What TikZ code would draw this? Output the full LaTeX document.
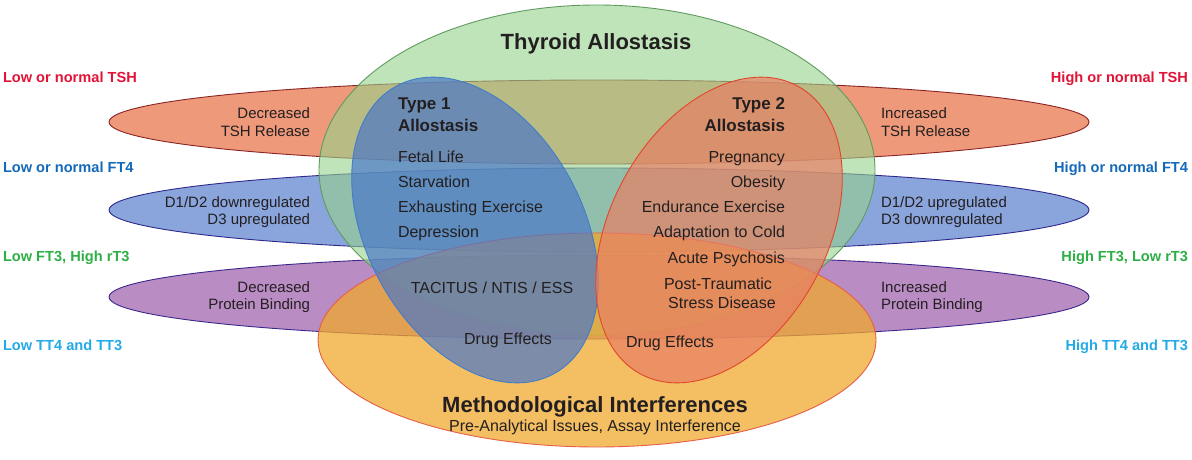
\documentclass[tikz,border=0pt]{standalone}
\usepackage{fontspec}
\setmainfont{Liberation Sans}
\definecolor{txt}{RGB}{35,31,32}
\definecolor{bandR}{RGB}{237,153,122}
\definecolor{bandRd}{RGB}{140,35,35}
\definecolor{bandB}{RGB}{138,164,220}
\definecolor{bandBd}{RGB}{45,40,140}
\definecolor{bandP}{RGB}{186,140,196}
\definecolor{bandPd}{RGB}{60,40,140}
\definecolor{grn}{RGB}{150,210,140}
\definecolor{grnd}{RGB}{95,155,95}
\definecolor{org}{RGB}{240,168,45}
\definecolor{orgd}{RGB}{230,95,70}
\definecolor{tone}{RGB}{75,120,200}
\definecolor{toned}{RGB}{65,125,200}
\definecolor{ttwo}{RGB}{232,127,100}
\definecolor{ttwod}{RGB}{225,70,45}
\definecolor{cTSH}{RGB}{225,20,55}
\definecolor{cFT}{RGB}{20,105,185}
\definecolor{cFTT}{RGB}{45,175,70}
\definecolor{cTT}{RGB}{35,170,230}
\begin{document}
\begin{tikzpicture}[x=1pt,y=-1pt,
  lab/.style={font=\fontsize{14.6}{16}\selectfont\bfseries, inner sep=0pt, outer sep=0pt},
  btxt/.style={font=\fontsize{15}{18}\selectfont, text=txt, inner sep=0pt, outer sep=0pt},
  itxt/.style={font=\fontsize{16}{19}\selectfont, text=txt, inner sep=0pt, outer sep=0pt},
  head/.style={font=\fontsize{17}{21}\selectfont\bfseries, text=txt, inner sep=0pt, outer sep=0pt},
  ttl/.style={font=\fontsize{22}{26}\selectfont\bfseries, text=txt, inner sep=0pt, outer sep=0pt},
  band/.style={line width=0.9pt},
  blob/.style={line width=0.9pt}]
\useasboundingbox (0,0) rectangle (1192,460);
% horizontal bands
\draw[band, fill=bandR, draw=bandRd] (599,122) ellipse [x radius=490pt, y radius=42pt];
\draw[band, fill=bandB, draw=bandBd] (599,210) ellipse [x radius=490pt, y radius=42pt];
\draw[band, fill=bandP, draw=bandPd] (599,297) ellipse [x radius=490pt, y radius=42pt];
% thyroid allostasis
\draw[blob, fill=grn, fill opacity=0.6, draw=grnd] (597,170) ellipse [x radius=278pt, y radius=165pt];
% methodological interferences
\draw[blob, fill=org, fill opacity=0.75, draw=orgd] (597,340) ellipse [x radius=279pt, y radius=107pt];
% type 1 and type 2
\draw[blob, fill=tone, fill opacity=0.7, draw=toned, rotate around={28.8:(475,230)}] (475,230) ellipse [x radius=108pt, y radius=164pt];
\draw[blob, fill=ttwo, fill opacity=0.7, draw=ttwod, rotate around={-28.8:(719,230)}] (719,230) ellipse [x radius=108pt, y radius=164pt];

% side labels
\node[lab, text=cTSH, anchor=base west] (lTSH) at (3,82) {Low or normal TSH};
\node[lab, text=cFT, anchor=base west] (lFT4) at (3,172) {Low or normal FT4};
\node[lab, text=cFTT, anchor=base west] (lFT3) at (3,261) {Low FT3, High rT3};
\node[lab, text=cTT, anchor=base west] (lTT4) at (3,350) {Low TT4 and TT3};
\node[lab, text=cTSH, anchor=base east] (rTSH) at (1188,82) {High or normal TSH};
\node[lab, text=cFT, anchor=base east] (rFT4) at (1188,172) {High or normal FT4};
\node[lab, text=cFTT, anchor=base east] (rFT3) at (1188,261) {High FT3, Low rT3};
\node[lab, text=cTT, anchor=base east] (rTT4) at (1188,350) {High TT4 and TT3};

% band texts
\node[btxt, anchor=base east] (bl1a) at (310,118) {Decreased};
\node[btxt, anchor=base east] (bl1b) at (310,136) {TSH Release};
\node[btxt, anchor=base east] (bl2a) at (310,207) {D1/D2 downregulated};
\node[btxt, anchor=base east] (bl2b) at (310,224) {D3 upregulated};
\node[btxt, anchor=base east] (bl3a) at (310,292) {Decreased};
\node[btxt, anchor=base east] (bl3b) at (310,309) {Protein Binding};
\node[btxt, anchor=base west] (br1a) at (881,118) {Increased};
\node[btxt, anchor=base west] (br1b) at (881,136) {TSH Release};
\node[btxt, anchor=base west] (br2a) at (881,207) {D1/D2 upregulated};
\node[btxt, anchor=base west] (br2b) at (881,224) {D3 downregulated};
\node[btxt, anchor=base west] (br3a) at (881,292) {Increased};
\node[btxt, anchor=base west] (br3b) at (881,309) {Protein Binding};

% titles
\node[ttl, anchor=base] (thy) at (596,50) {Thyroid Allostasis};
\node[ttl, anchor=base] (meth) at (595,412) {Methodological Interferences};
\node[itxt, anchor=base] (pre) at (595,431) {Pre-Analytical Issues, Assay Interference};

% type 1
\node[head, anchor=base west] (t1a) at (398,110) {Type 1};
\node[head, anchor=base west] (t1b) at (398,131) {Allostasis};
\node[itxt, anchor=base west] (t1c) at (398,162) {Fetal Life};
\node[itxt, anchor=base west] (t1d) at (398,187) {Starvation};
\node[itxt, anchor=base west] (t1e) at (398,212) {Exhausting Exercise};
\node[itxt, anchor=base west] (t1f) at (398,237) {Depression};
% type 2
\node[head, anchor=base east] (t2a) at (785,110) {Type 2};
\node[head, anchor=base east] (t2b) at (785,131) {Allostasis};
\node[itxt, anchor=base east] (t2c) at (785,162) {Pregnancy};
\node[itxt, anchor=base east] (t2d) at (785,187) {Obesity};
\node[itxt, anchor=base east] (t2e) at (785,212) {Endurance Exercise};
\node[itxt, anchor=base east] (t2f) at (785,237) {Adaptation to Cold};
\node[itxt, anchor=base east] (t2g) at (785,263) {Acute Psychosis};
\node[itxt, anchor=base] (t2h) at (718,289) {Post-Traumatic};
\node[itxt, anchor=base] (t2i) at (722,308) {Stress Disease};
% shared
\node[itxt, anchor=base] (tac) at (492,293) {TACITUS / NTIS / ESS};
\node[itxt, anchor=base] (dr1) at (508,344) {Drug Effects};
\node[itxt, anchor=base] (dr2) at (670,347) {Drug Effects};
\end{tikzpicture}
\end{document}
